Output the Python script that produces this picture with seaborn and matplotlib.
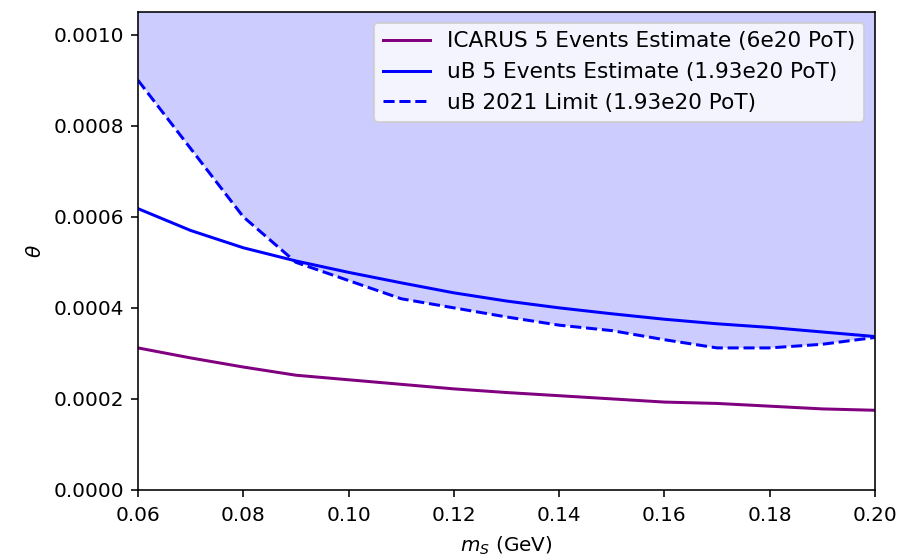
import numpy as np
import pandas as pd
import matplotlib
matplotlib.use("Agg")
import matplotlib.pyplot as plt
import seaborn as sns

# Scalar mass grid (GeV)
mass = [0.06, 0.07, 0.08, 0.09, 0.10, 0.11, 0.12, 0.13, 0.14, 0.15, 0.16, 0.17, 0.18, 0.19, 0.20]

# ICARUS 5-event sensitivity (6e20 PoT)
icarus_5evt = [0.000312, 0.000290, 0.000270, 0.000252, 0.000242, 0.000232, 0.000222, 0.000214,
               0.000207, 0.000200, 0.000193, 0.000190, 0.000184, 0.000178, 0.000175]

# MicroBooNE 5-event sensitivity (1.93e20 PoT)
ub_5evt = [0.000618, 0.000570, 0.000532, 0.000503, 0.000478, 0.000455, 0.000433, 0.000415,
           0.000400, 0.000387, 0.000375, 0.000365, 0.000357, 0.000347, 0.000337]

# MicroBooNE 2021 published limit (1.93e20 PoT)
ub_2021_limit = [0.000900, 0.000750, 0.000600, 0.000500, 0.000460, 0.000420, 0.000400, 0.000380,
                 0.000362, 0.000350, 0.000330, 0.000312, 0.000312, 0.000320, 0.000335]

df = pd.DataFrame({"mass": mass, "icarus": icarus_5evt, "ub": ub_5evt, "limit": ub_2021_limit})

fig = plt.figure(figsize=(899 / 144, 558 / 144), dpi=144)
ax = fig.add_axes([0.1535, 0.122, 0.8198, 0.8565])

sns.lineplot(data=df, x="mass", y="icarus", color="purple", linewidth=1.5,
             label="ICARUS 5 Events Estimate (6e20 PoT)", ax=ax)
sns.lineplot(data=df, x="mass", y="ub", color="blue", linewidth=1.5,
             label="uB 5 Events Estimate (1.93e20 PoT)", ax=ax)
sns.lineplot(data=df, x="mass", y="limit", color="blue", linewidth=1.5, linestyle="--",
             label="uB 2021 Limit (1.93e20 PoT)", ax=ax)

# Excluded region above the published limit
ax.fill_between(df["mass"], df["limit"], 0.01, color="blue", alpha=0.2, linewidth=0)

ax.set_xlim(0.06, 0.20)
ax.set_ylim(0.0, 0.00105)
ax.set_xticks(np.arange(0.06, 0.2001, 0.02))
ax.set_yticks(np.arange(0.0, 0.00101, 0.0002))
ax.yaxis.set_major_formatter(matplotlib.ticker.FormatStrFormatter("%.4f"))
ax.xaxis.set_major_formatter(matplotlib.ticker.FormatStrFormatter("%.2f"))
ax.tick_params(axis="x", pad=4.5)
ax.set_xlabel(r"$m_S$ (GeV)", labelpad=5)
ax.set_ylabel(r"$\theta$")
ax.legend(loc="upper right", fontsize=10.8, handlelength=2.2)

fig.savefig("out.png", dpi=144)
